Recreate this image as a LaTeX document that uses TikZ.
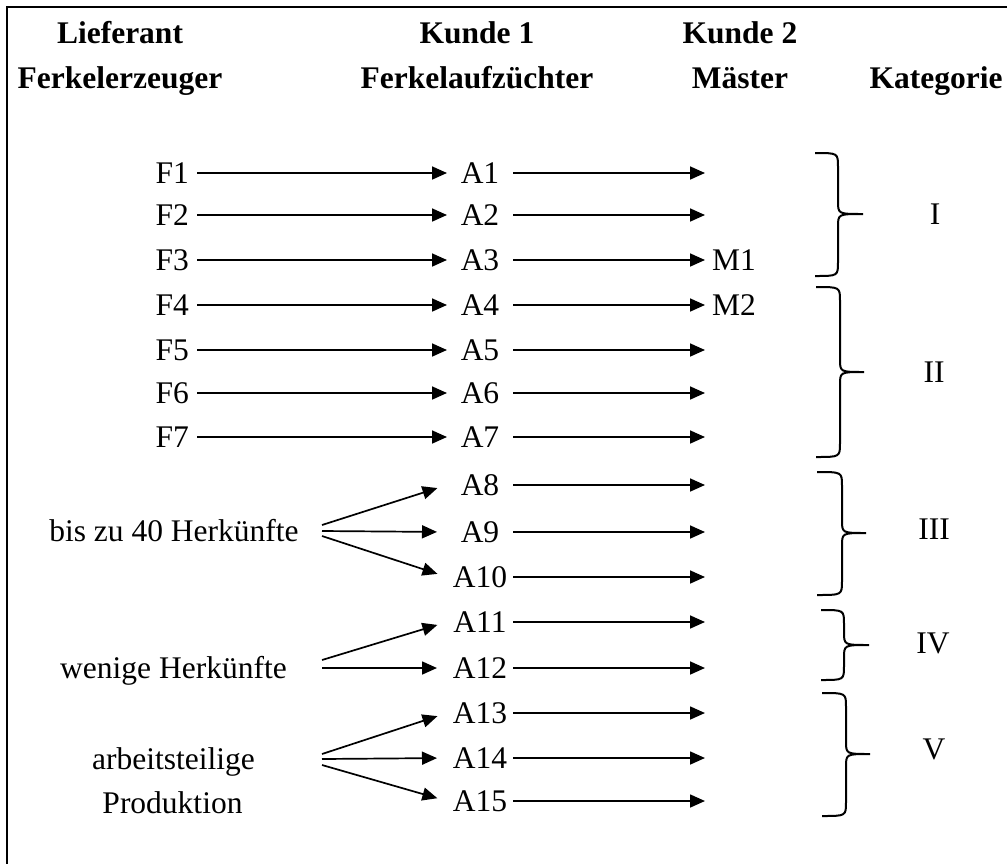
\documentclass[tikz,border=0pt]{standalone}
\usepackage{fontspec}
\setmainfont{Liberation Serif}
\usetikzlibrary{arrows.meta}
\newcommand\mybrace[6]{% #1 left x, #2 stem x, #3 top, #4 bottom, #5 middle, #6 tip x
  \draw[brace] (#1,#3) .. controls (#2,#3) .. (#2,#3+14) -- (#2,#5-13)
    .. controls (#2,#5) .. (#6,#5) .. controls (#2,#5) .. (#2,#5+13)
    -- (#2,#4-14) .. controls (#2,#4) .. (#1,#4);}
\begin{document}
\begin{tikzpicture}[x=1pt,y=-1pt,
  every node/.style={font=\fontsize{31.5}{38}\selectfont},
  hd/.style={font=\fontsize{31.5}{38}\selectfont\bfseries, anchor=base, inner sep=0pt},
  lbl/.style={inner sep=0pt, outer sep=0pt, text height=21pt, text depth=0pt},
  fnode/.style={lbl, anchor=east, outer xsep=8pt},
  anode/.style={lbl, minimum width=66pt},
  mnode/.style={lbl, anchor=west, outer xsep=7pt},
  arr/.style={line width=1.7pt, -{Triangle[length=15pt,width=13pt]}},
  fan/.style={arr, shorten >=10pt},
  brace/.style={line width=2pt}
]
\useasboundingbox (0,0) rectangle (1007,863);
% frame (only left and top edges visible)
\draw[line width=2.6pt] (1012,7) -- (7,7) -- (7,868);

% headers
\node[hd] (h1a) at (120,43) {Lieferant};
\node[hd] (h1b) at (120,88) {Ferkelerzeuger};
\node[hd] (h2a) at (477,43) {Kunde 1};
\node[hd] (h2b) at (477,88) {Ferkelaufzüchter};
\node[hd] (h3a) at (740,43) {Kunde 2};
\node[hd] (h3b) at (740,88) {Mäster};
\node[hd] (h4) at (936,88) {Kategorie};

% rows
\foreach \i/\y in {1/173,2/215,3/260,4/305,5/350,6/393,7/437}{
  \node[fnode] (F\i) at (197,\y) {F\i};
}
\foreach \i/\y in {1/173,2/215,3/260,4/305,5/350,6/393,7/437,8/485,9/532,10/577,11/622,12/668,13/713,14/758,15/801}{
  \node[anode] (A\i) at (480,\y) {A\i};
  \coordinate (E\i) at (705,\y);
}
\node[mnode] (M1) at (705,260) {M1};
\node[mnode] (M2) at (705,305) {M2};

\foreach \i in {1,...,7}{ \draw[arr] (F\i.east) -- (A\i.west); }
\foreach \i in {1,2,5,6,7,8,9,10,11,12,13,14,15}{ \draw[arr] (A\i.east) -- (E\i); }
\draw[arr] (A3.east) -- (M1.west);
\draw[arr] (A4.east) -- (M2.west);

% sources with several origins
\node[lbl] (bis) at (174,531) {bis zu 40 Herkünfte};
\node[lbl] (wen) at (173.5,668) {wenige Herkünfte};
\node[lbl] (arb) at (173.5,758.5) {arbeitsteilige};
\node[lbl] (prod) at (172.5,802.5) {Produktion};
\coordinate (o1) at (322,531);
\coordinate (o2) at (322,668);
\coordinate (o3) at (322,759);
\draw[fan] ([yshift=6pt]o1) -- (A8.west);
\draw[fan] (o1) -- (A9.west);
\draw[fan] ([yshift=-5pt]o1) -- (A10.west);
\draw[fan] ([yshift=8pt]o2) -- (A11.west);
\draw[fan] (o2) -- (A12.west);
\draw[fan] ([yshift=5pt]o3) -- (A13.west);
\draw[fan] (o3) -- (A14.west);
\draw[fan] ([yshift=-6pt]o3) -- (A15.west);

% braces and categories
\mybrace{815}{838}{153}{276}{214}{863}
\mybrace{816}{840}{287}{457}{372}{864}
\mybrace{817}{842}{472}{595}{533}{866}
\mybrace{821}{844}{610}{680}{645}{869}
\mybrace{822}{846}{693}{816}{754}{870}
\node[lbl] (k1) at (935,214) {I};
\node[lbl] (k2) at (934,372) {II};
\node[lbl] (k3) at (934,529) {III};
\node[lbl] (k4) at (933,643) {IV};
\node[lbl] (k5) at (934,749) {V};
\end{tikzpicture}
\end{document}
